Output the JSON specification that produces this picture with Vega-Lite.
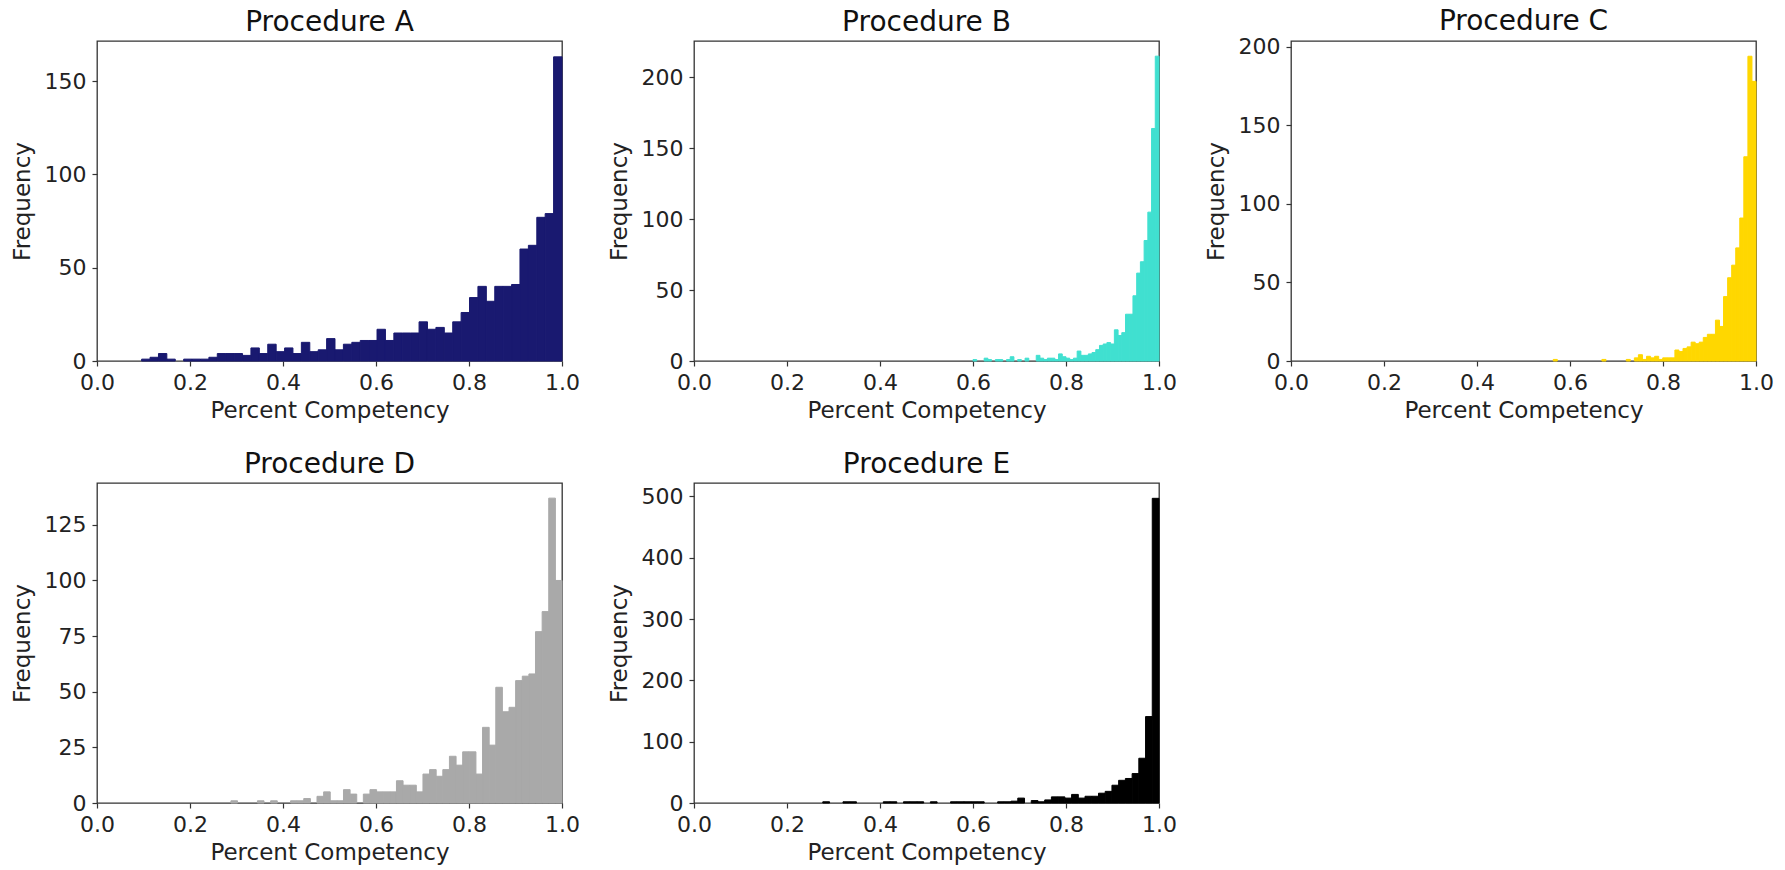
{
  "$schema": "https://vega.github.io/schema/vega-lite/v6.json",
  "background": "white",
  "padding": {"left": 10, "top": 7, "right": 5, "bottom": 5},
  "config": {
    "font": "DejaVu Sans",
    "view": {"stroke": "#333333", "strokeWidth": 1.3},
    "axis": {"grid": false, "domain": false, "tickColor": "#333333", "tickSize": 5, "tickWidth": 1.2, "labelFontSize": 22, "titleFontSize": 23, "labelColor": "#222222", "titleColor": "#222222", "titleFontWeight": "normal", "labelFont": "DejaVu Sans", "titleFont": "DejaVu Sans", "labelFlush": false, "labelPadding": 6},
    "axisX": {"titlePadding": 6},
    "axisY": {"titlePadding": 10},
    "title": {"fontSize": 28, "fontWeight": "normal", "font": "DejaVu Sans", "color": "#111111", "offset": 4, "frame": "group", "anchor": "middle"}
  },
  "datasets": {
    "A": [
      {"x0":0.096,"x1":0.1141,"n":1},{"x0":0.1141,"x1":0.1322,"n":2},{"x0":0.1322,"x1":0.1502,"n":4},{"x0":0.1502,"x1":0.1683,"n":1},
      {"x0":0.1864,"x1":0.2045,"n":1},{"x0":0.2045,"x1":0.2226,"n":1},{"x0":0.2226,"x1":0.2406,"n":1},{"x0":0.2406,"x1":0.2587,"n":2},
      {"x0":0.2587,"x1":0.2768,"n":4},{"x0":0.2768,"x1":0.2949,"n":4},{"x0":0.2949,"x1":0.313,"n":4},{"x0":0.313,"x1":0.331,"n":3},
      {"x0":0.331,"x1":0.3491,"n":7},{"x0":0.3491,"x1":0.3672,"n":4},{"x0":0.3672,"x1":0.3853,"n":9},{"x0":0.3853,"x1":0.4034,"n":5},
      {"x0":0.4034,"x1":0.4214,"n":7},{"x0":0.4214,"x1":0.4395,"n":4},{"x0":0.4395,"x1":0.4576,"n":10},{"x0":0.4576,"x1":0.4757,"n":5},
      {"x0":0.4757,"x1":0.4938,"n":6},{"x0":0.4938,"x1":0.5118,"n":12},{"x0":0.5118,"x1":0.5299,"n":6},{"x0":0.5299,"x1":0.548,"n":9},
      {"x0":0.548,"x1":0.5661,"n":10},{"x0":0.5661,"x1":0.5842,"n":11},{"x0":0.5842,"x1":0.6022,"n":11},{"x0":0.6022,"x1":0.6203,"n":17},
      {"x0":0.6203,"x1":0.6384,"n":11},{"x0":0.6384,"x1":0.6565,"n":15},{"x0":0.6565,"x1":0.6746,"n":15},{"x0":0.6746,"x1":0.6926,"n":15},
      {"x0":0.6926,"x1":0.7107,"n":21},{"x0":0.7107,"x1":0.7288,"n":17},{"x0":0.7288,"x1":0.7469,"n":18},{"x0":0.7469,"x1":0.765,"n":15},
      {"x0":0.765,"x1":0.783,"n":21},{"x0":0.783,"x1":0.8011,"n":26},{"x0":0.8011,"x1":0.8192,"n":34},{"x0":0.8192,"x1":0.8373,"n":40},
      {"x0":0.8373,"x1":0.8554,"n":32},{"x0":0.8554,"x1":0.8734,"n":40},{"x0":0.8734,"x1":0.8915,"n":40},{"x0":0.8915,"x1":0.9096,"n":41},
      {"x0":0.9096,"x1":0.9277,"n":60},{"x0":0.9277,"x1":0.9458,"n":62},{"x0":0.9458,"x1":0.9638,"n":77},{"x0":0.9638,"x1":0.9819,"n":79},
      {"x0":0.9819,"x1":1.0,"n":163}
    ],
    "B": [
      {"x0":0.600,"x1":0.608,"n":1},{"x0":0.624,"x1":0.632,"n":2},{"x0":0.632,"x1":0.640,"n":1},{"x0":0.648,"x1":0.656,"n":1},
      {"x0":0.656,"x1":0.664,"n":1},{"x0":0.672,"x1":0.680,"n":1},{"x0":0.680,"x1":0.688,"n":3},{"x0":0.696,"x1":0.704,"n":1},
      {"x0":0.712,"x1":0.720,"n":2},{"x0":0.736,"x1":0.744,"n":4},{"x0":0.744,"x1":0.752,"n":2},{"x0":0.752,"x1":0.760,"n":1},
      {"x0":0.760,"x1":0.768,"n":2},{"x0":0.768,"x1":0.776,"n":2},{"x0":0.776,"x1":0.784,"n":1},{"x0":0.784,"x1":0.792,"n":5},
      {"x0":0.792,"x1":0.800,"n":3},{"x0":0.800,"x1":0.808,"n":2},{"x0":0.808,"x1":0.816,"n":1},{"x0":0.816,"x1":0.824,"n":2},
      {"x0":0.824,"x1":0.832,"n":7},{"x0":0.832,"x1":0.840,"n":4},{"x0":0.840,"x1":0.848,"n":4},{"x0":0.848,"x1":0.856,"n":5},
      {"x0":0.856,"x1":0.864,"n":6},{"x0":0.864,"x1":0.872,"n":8},{"x0":0.872,"x1":0.880,"n":11},{"x0":0.880,"x1":0.888,"n":12},
      {"x0":0.888,"x1":0.896,"n":13},{"x0":0.896,"x1":0.904,"n":12},{"x0":0.904,"x1":0.912,"n":22},{"x0":0.912,"x1":0.920,"n":18},
      {"x0":0.920,"x1":0.928,"n":20},{"x0":0.928,"x1":0.936,"n":33},{"x0":0.936,"x1":0.944,"n":33},{"x0":0.944,"x1":0.952,"n":46},
      {"x0":0.952,"x1":0.960,"n":62},{"x0":0.960,"x1":0.968,"n":70},{"x0":0.968,"x1":0.976,"n":85},{"x0":0.976,"x1":0.984,"n":105},
      {"x0":0.984,"x1":0.992,"n":164},{"x0":0.992,"x1":1.000,"n":215}
    ],
    "C": [
      {"x0":0.564,"x1":0.5727,"n":1},{"x0":0.6686,"x1":0.6774,"n":1},{"x0":0.721,"x1":0.7297,"n":1},{"x0":0.7384,"x1":0.7471,"n":2},
      {"x0":0.7471,"x1":0.7558,"n":4},{"x0":0.7558,"x1":0.7646,"n":1},{"x0":0.7646,"x1":0.7733,"n":3},{"x0":0.7733,"x1":0.782,"n":2},
      {"x0":0.782,"x1":0.7907,"n":3},{"x0":0.7907,"x1":0.7994,"n":1},{"x0":0.7994,"x1":0.8082,"n":2},{"x0":0.8082,"x1":0.8169,"n":2},
      {"x0":0.8169,"x1":0.8256,"n":2},{"x0":0.8256,"x1":0.8343,"n":7},{"x0":0.8343,"x1":0.843,"n":6},{"x0":0.843,"x1":0.8518,"n":8},
      {"x0":0.8518,"x1":0.8605,"n":9},{"x0":0.8605,"x1":0.8692,"n":12},{"x0":0.8692,"x1":0.8779,"n":11},{"x0":0.8779,"x1":0.8866,"n":12},
      {"x0":0.8866,"x1":0.8954,"n":15},{"x0":0.8954,"x1":0.9041,"n":17},{"x0":0.9041,"x1":0.9128,"n":17},{"x0":0.9128,"x1":0.9215,"n":26},
      {"x0":0.9215,"x1":0.9302,"n":22},{"x0":0.9302,"x1":0.939,"n":41},{"x0":0.939,"x1":0.9477,"n":53},{"x0":0.9477,"x1":0.9564,"n":61},
      {"x0":0.9564,"x1":0.9651,"n":72},{"x0":0.9651,"x1":0.9738,"n":91},{"x0":0.9738,"x1":0.9826,"n":130},{"x0":0.9826,"x1":0.9913,"n":194},
      {"x0":0.9913,"x1":1.0,"n":178}
    ],
    "D": [
      {"x0":0.288,"x1":0.3022,"n":1},{"x0":0.345,"x1":0.3592,"n":1},{"x0":0.3734,"x1":0.3877,"n":1},{"x0":0.4162,"x1":0.4304,"n":1},
      {"x0":0.4304,"x1":0.4446,"n":1},{"x0":0.4446,"x1":0.4589,"n":2},{"x0":0.4731,"x1":0.4874,"n":3},{"x0":0.4874,"x1":0.5016,"n":5},
      {"x0":0.5016,"x1":0.5158,"n":1},{"x0":0.5158,"x1":0.5301,"n":1},{"x0":0.5301,"x1":0.5443,"n":6},{"x0":0.5443,"x1":0.5586,"n":4},
      {"x0":0.5728,"x1":0.587,"n":4},{"x0":0.587,"x1":0.6013,"n":6},{"x0":0.6013,"x1":0.6155,"n":5},{"x0":0.6155,"x1":0.6298,"n":5},
      {"x0":0.6298,"x1":0.644,"n":5},{"x0":0.644,"x1":0.6582,"n":10},{"x0":0.6582,"x1":0.6725,"n":8},{"x0":0.6725,"x1":0.6867,"n":8},
      {"x0":0.6867,"x1":0.701,"n":5},{"x0":0.701,"x1":0.7152,"n":13},{"x0":0.7152,"x1":0.7294,"n":15},{"x0":0.7294,"x1":0.7437,"n":12},
      {"x0":0.7437,"x1":0.7579,"n":15},{"x0":0.7579,"x1":0.7722,"n":21},{"x0":0.7722,"x1":0.7864,"n":17},{"x0":0.7864,"x1":0.8006,"n":23},
      {"x0":0.8006,"x1":0.8149,"n":23},{"x0":0.8149,"x1":0.8291,"n":13},{"x0":0.8291,"x1":0.8434,"n":34},{"x0":0.8434,"x1":0.8576,"n":26},
      {"x0":0.8576,"x1":0.8718,"n":52},{"x0":0.8718,"x1":0.8861,"n":41},{"x0":0.8861,"x1":0.9003,"n":43},{"x0":0.9003,"x1":0.9146,"n":55},
      {"x0":0.9146,"x1":0.9288,"n":57},{"x0":0.9288,"x1":0.943,"n":58},{"x0":0.943,"x1":0.9573,"n":77},{"x0":0.9573,"x1":0.9715,"n":86},
      {"x0":0.9715,"x1":0.9858,"n":137},{"x0":0.9858,"x1":1.0,"n":100}
    ],
    "E": [
      {"x0":0.277,"x1":0.2915,"n":2},{"x0":0.3204,"x1":0.3348,"n":2},{"x0":0.3348,"x1":0.3493,"n":2},{"x0":0.4071,"x1":0.4216,"n":2},
      {"x0":0.4216,"x1":0.4361,"n":2},{"x0":0.4505,"x1":0.465,"n":2},{"x0":0.465,"x1":0.4794,"n":2},{"x0":0.4794,"x1":0.4939,"n":2},
      {"x0":0.5084,"x1":0.5228,"n":2},{"x0":0.5517,"x1":0.5662,"n":2},{"x0":0.5662,"x1":0.5807,"n":2},{"x0":0.5807,"x1":0.5951,"n":2},
      {"x0":0.5951,"x1":0.6096,"n":2},{"x0":0.6096,"x1":0.624,"n":2},{"x0":0.653,"x1":0.6674,"n":2},{"x0":0.6674,"x1":0.6819,"n":2},
      {"x0":0.6819,"x1":0.6963,"n":3},{"x0":0.6963,"x1":0.7108,"n":8},{"x0":0.7253,"x1":0.7397,"n":4},{"x0":0.7397,"x1":0.7542,"n":2},
      {"x0":0.7542,"x1":0.7686,"n":5},{"x0":0.7686,"x1":0.7831,"n":10},{"x0":0.7831,"x1":0.7976,"n":10},{"x0":0.7976,"x1":0.812,"n":8},
      {"x0":0.812,"x1":0.8265,"n":14},{"x0":0.8265,"x1":0.8409,"n":8},{"x0":0.8409,"x1":0.8554,"n":11},{"x0":0.8554,"x1":0.8699,"n":11},
      {"x0":0.8699,"x1":0.8843,"n":16},{"x0":0.8843,"x1":0.8988,"n":19},{"x0":0.8988,"x1":0.9132,"n":29},{"x0":0.9132,"x1":0.9277,"n":37},
      {"x0":0.9277,"x1":0.9422,"n":40},{"x0":0.9422,"x1":0.9566,"n":48},{"x0":0.9566,"x1":0.9711,"n":73},{"x0":0.9711,"x1":0.9855,"n":141},
      {"x0":0.9855,"x1":1.0,"n":497}
    ]
  },
  "columns": 3,
  "spacing": {"row": 122, "column": 132},
  "bounds": "flush",
  "concat": [
    {
      "title": "Procedure A",
      "width": 465, "height": 320,
      "data": {"name": "A"},
      "mark": {"type": "bar", "color": "#191970", "stroke": "#191970", "strokeWidth": 1},
      "encoding": {
        "x": {"field": "x0", "type": "quantitative", "scale": {"domain": [0, 1], "nice": false, "zero": false}, "axis": {"title": "Percent Competency", "values": [0, 0.2, 0.4, 0.6, 0.8, 1], "format": ".1f"}},
        "x2": {"field": "x1"},
        "y": {"field": "n", "type": "quantitative", "scale": {"domain": [0, 171.5], "nice": false}, "axis": {"title": "Frequency", "values": [0, 50, 100, 150]}},
        "y2": {"datum": 0}
      }
    },
    {
      "title": "Procedure B",
      "width": 465, "height": 320,
      "data": {"name": "B"},
      "mark": {"type": "bar", "color": "#40E0D0", "stroke": "#40E0D0", "strokeWidth": 1},
      "encoding": {
        "x": {"field": "x0", "type": "quantitative", "scale": {"domain": [0, 1], "nice": false, "zero": false}, "axis": {"title": "Percent Competency", "values": [0, 0.2, 0.4, 0.6, 0.8, 1], "format": ".1f"}},
        "x2": {"field": "x1"},
        "y": {"field": "n", "type": "quantitative", "scale": {"domain": [0, 225.7], "nice": false}, "axis": {"title": "Frequency", "values": [0, 50, 100, 150, 200]}},
        "y2": {"datum": 0}
      }
    },
    {
      "title": {"text": "Procedure C", "dy": 4},
      "width": 465, "height": 320,
      "data": {"name": "C"},
      "mark": {"type": "bar", "color": "#FFD700", "stroke": "#FFD700", "strokeWidth": 1},
      "encoding": {
        "x": {"field": "x0", "type": "quantitative", "scale": {"domain": [0, 1], "nice": false, "zero": false}, "axis": {"title": "Percent Competency", "values": [0, 0.2, 0.4, 0.6, 0.8, 1], "format": ".1f"}},
        "x2": {"field": "x1"},
        "y": {"field": "n", "type": "quantitative", "scale": {"domain": [0, 203.7], "nice": false}, "axis": {"title": "Frequency", "values": [0, 50, 100, 150, 200]}},
        "y2": {"datum": 0}
      }
    },
    {
      "title": "Procedure D",
      "width": 465, "height": 320,
      "data": {"name": "D"},
      "mark": {"type": "bar", "color": "#A9A9A9", "stroke": "#A9A9A9", "strokeWidth": 1},
      "encoding": {
        "x": {"field": "x0", "type": "quantitative", "scale": {"domain": [0, 1], "nice": false, "zero": false}, "axis": {"title": "Percent Competency", "values": [0, 0.2, 0.4, 0.6, 0.8, 1], "format": ".1f"}},
        "x2": {"field": "x1"},
        "y": {"field": "n", "type": "quantitative", "scale": {"domain": [0, 143.8], "nice": false}, "axis": {"title": "Frequency", "values": [0, 25, 50, 75, 100, 125]}},
        "y2": {"datum": 0}
      }
    },
    {
      "title": "Procedure E",
      "width": 465, "height": 320,
      "data": {"name": "E"},
      "mark": {"type": "bar", "color": "#000000", "stroke": "#000000", "strokeWidth": 1},
      "encoding": {
        "x": {"field": "x0", "type": "quantitative", "scale": {"domain": [0, 1], "nice": false, "zero": false}, "axis": {"title": "Percent Competency", "values": [0, 0.2, 0.4, 0.6, 0.8, 1], "format": ".1f"}},
        "x2": {"field": "x1"},
        "y": {"field": "n", "type": "quantitative", "scale": {"domain": [0, 522], "nice": false}, "axis": {"title": "Frequency", "values": [0, 100, 200, 300, 400, 500]}},
        "y2": {"datum": 0}
      }
    }
  ]
}
